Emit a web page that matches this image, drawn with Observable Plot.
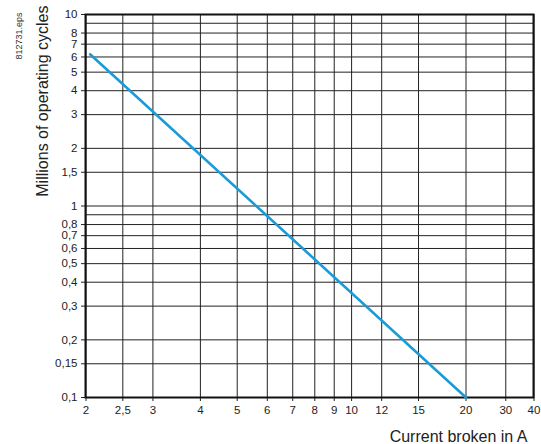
<!DOCTYPE html>
<html>
<head>
<meta charset="utf-8">
<script src="https://cdn.jsdelivr.net/npm/d3@7"></script>
<script src="https://cdn.jsdelivr.net/npm/@observablehq/plot@0.6"></script>
<style>
  html, body { margin: 0; padding: 0; background: #fff; }
  #chart { width: 541px; height: 444px; }
</style>
</head>
<body>
<div id="chart"></div>
<script>
// Data
const xTicks = [2, 2.5, 3, 4, 5, 6, 7, 8, 9, 10, 12, 15, 20, 30, 40];
const yGridValues = [0.1, 0.15, 0.2, 0.3, 0.4, 0.5, 0.6, 0.7, 0.8, 0.9, 1, 1.5, 2, 3, 4, 5, 6, 7, 8, 9, 10];
const yTickLabels = [0.1, 0.15, 0.2, 0.3, 0.4, 0.5, 0.6, 0.7, 0.8, 1, 1.5, 2, 3, 4, 5, 6, 7, 8, 10];
const currentA = [2.05, 20];
const millionsCycles = [6.2, 0.1];
const xBreaks = [2, 20, 40];          // the printed x axis is compressed above 20 A
const yTitle = "Millions of operating cycles";
const xTitle = "Current broken in A";
const fileTag = "812731.eps";

const curve = currentA.map((c, i) => ({current: c, cycles: millionsCycles[i]}));
const comma = d => String(d).replace(".", ",");

const chart = Plot.plot({
  width: 541,
  height: 444,
  marginTop: 14,
  marginBottom: 47,
  marginLeft: 85,
  marginRight: 8,
  style: {fontFamily: "'Liberation Sans', Arial, Helvetica, sans-serif", background: "#fff", color: "#222"},
  x: {type: "log", domain: xBreaks, range: [85.5, 465.5, 533.5]},
  y: {type: "log", domain: [0.1, 10]},
  marks: [
    Plot.ruleX(xTicks, {stroke: "#222", strokeWidth: 1}),
    Plot.ruleY(yGridValues, {stroke: "#222", strokeWidth: 1}),
    Plot.axisY({ticks: yTickLabels, tickFormat: () => "", tickSize: 4, label: null, stroke: "#222"}),
    Plot.axisX({ticks: xTicks, tickFormat: () => "", tickSize: 4, label: null, stroke: "#222"}),
    Plot.text(yTickLabels, {y: d => d, text: comma, frameAnchor: "left", textAnchor: "end", dx: -8, fontSize: 11.5, fill: "#222"}),
    Plot.text(xTicks, {x: d => d, text: comma, frameAnchor: "bottom", lineAnchor: "top", dy: 8, fontSize: 11.5, fill: "#222"}),
    Plot.frame({stroke: "#111", strokeWidth: 2}),
    Plot.line(curve, {x: "current", y: "cycles", stroke: "#1a9bd9", strokeWidth: 2.6}),
    Plot.text([yTitle], {frameAnchor: "top-left", rotate: -90, textAnchor: "end", dx: -49, dy: -9, fontSize: 16, fill: "#222"}),
    Plot.text([fileTag], {frameAnchor: "top-left", rotate: -90, textAnchor: "end", dx: -70, dy: -2, fontSize: 9, fill: "#333"}),
    Plot.text([xTitle], {frameAnchor: "bottom-right", textAnchor: "end", dx: -6, dy: 44, fontSize: 16, fill: "#222"})
  ]
});
document.getElementById("chart").appendChild(chart);
</script>
</body>
</html>
